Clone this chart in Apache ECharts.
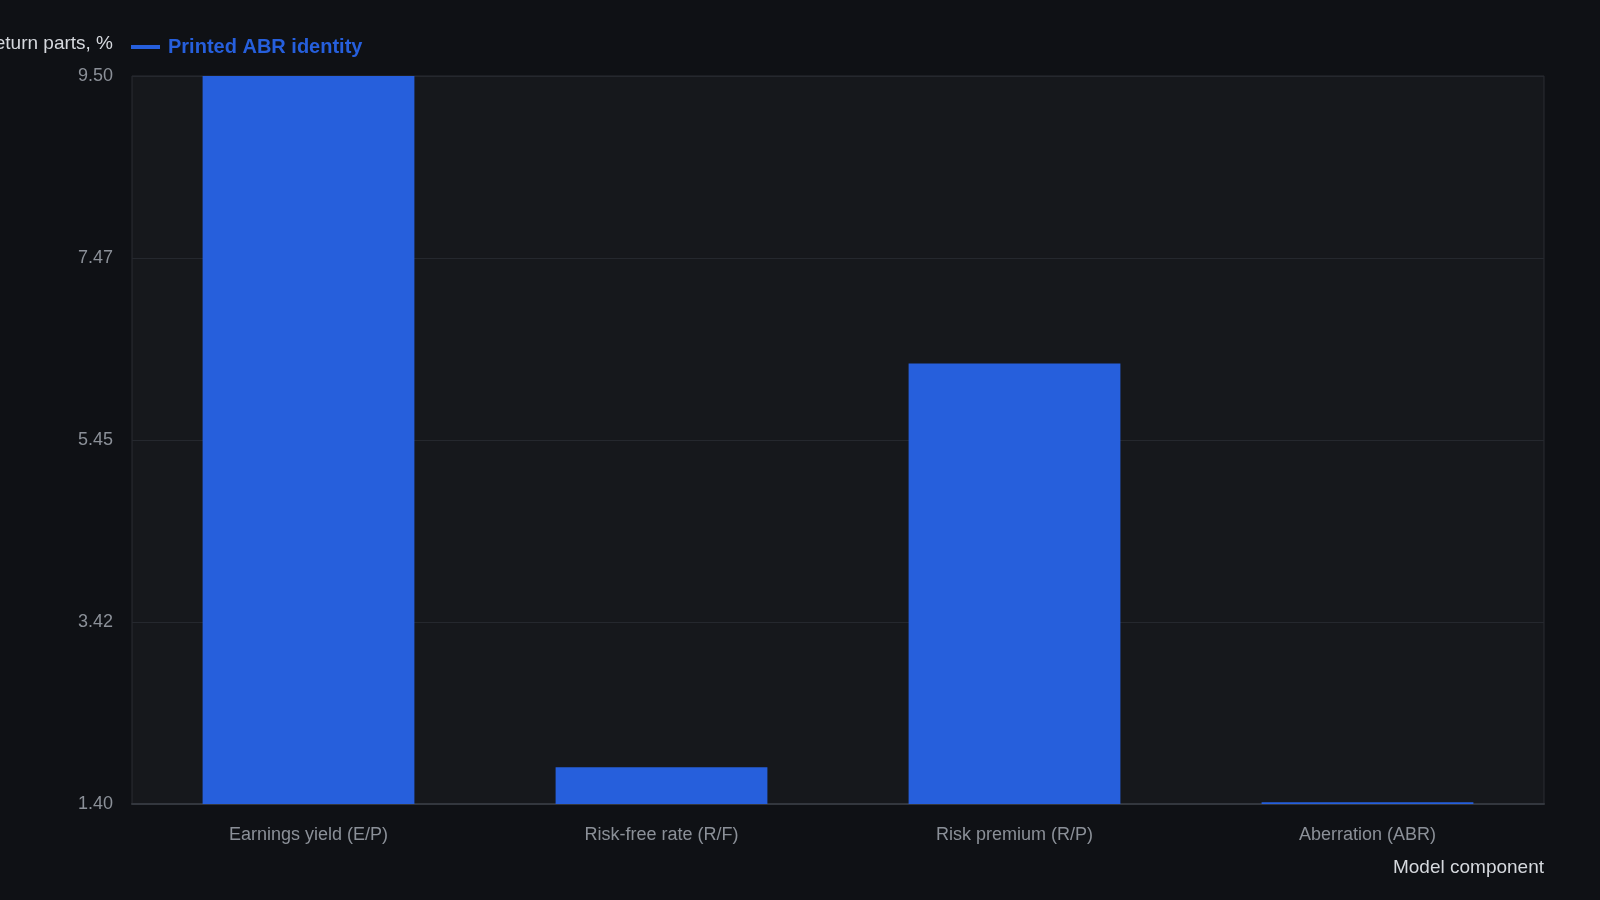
<!DOCTYPE html>
<html>
<head>
<meta charset="utf-8">
<script src="https://cdn.jsdelivr.net/npm/echarts@6/dist/echarts.min.js"></script>
<style>
html,body{margin:0;padding:0;background:#0f1115;}
#chart{width:1600px;height:900px;}
</style>
</head>
<body>
<div id="chart"></div>
<script>
const categories = ['Earnings yield (E/P)', 'Risk-free rate (R/F)', 'Risk premium (R/P)', 'Aberration (ABR)'];
const seriesName = 'Printed ABR identity';
const values = [9.50, 1.81, 6.30, 1.42];
const yTickLabels = ['1.40', '3.42', '5.45', '7.47', '9.50'];
const yMin = 1.40, yMax = 9.50;

const font = '"Liberation Sans", Arial, sans-serif';
const blue = '#265fdc';
const chart = echarts.init(document.getElementById('chart'));
chart.setOption({
  backgroundColor: '#0f1115',
  animation: false,
  textStyle: { fontFamily: font },
  legend: {
    left: 126, top: 32,
    icon: 'rect', itemWidth: 29, itemHeight: 4,
    textStyle: { color: blue, fontSize: 20, fontWeight: 'bold', fontFamily: font, padding: [0, 0, 0, 3] },
    data: [seriesName]
  },
  grid: {
    left: 132, right: 56, top: 76, bottom: 96,
    show: true, backgroundColor: '#16181c', borderColor: '#2a2d33', borderWidth: 1,
    containLabel: false,
    outerBoundsMode: 'none'
  },
  xAxis: {
    type: 'category',
    data: categories,
    name: 'Model component',
    nameLocation: 'end',
    nameGap: 0,
    nameTextStyle: { color: '#d6d9de', fontSize: 19, align: 'right', verticalAlign: 'top', padding: [54, 0, 0, 0], fontFamily: font },
    axisLine: { show: true, lineStyle: { color: '#33373e', width: 2 } },
    axisTick: { show: false },
    axisLabel: { color: '#8b9098', fontSize: 18, margin: 22, fontFamily: font },
    splitLine: { show: false }
  },
  yAxis: {
    type: 'value',
    min: yMin, max: yMax, interval: (yMax - yMin) / 4,
    name: 'Return parts, %',
    nameLocation: 'end',
    nameGap: 32,
    nameTextStyle: { color: '#d6d9de', fontSize: 19, align: 'right', verticalAlign: 'middle', padding: [0, 19, 0, 0], fontFamily: font },
    axisLine: { show: false },
    axisTick: { show: false },
    axisLabel: {
      color: '#8b9098', fontSize: 18, margin: 19, fontFamily: font, padding: [5, 0, 0, 0],
      formatter: (v, i) => yTickLabels[i] !== undefined ? yTickLabels[i] : v.toFixed(2)
    },
    splitLine: { show: true, lineStyle: { color: '#25282e', width: 1 } }
  },
  series: [{
    name: seriesName,
    type: 'bar',
    data: values,
    barWidth: '60%',
    itemStyle: { color: blue }
  }]
});
</script>
</body>
</html>
